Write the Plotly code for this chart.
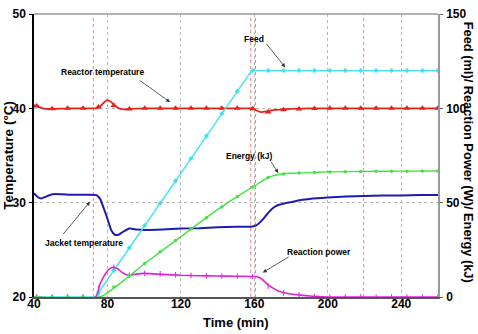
import plotly.graph_objects as go

# ---------------- data ----------------
# Reactor temperature (°C), left axis
reactor_t = [40, 42, 45, 48, 52, 60, 70, 74, 76, 78, 79.5, 81, 83, 85, 87, 89, 92, 100, 120, 140,
             156, 158.5, 161, 163.5, 166, 170, 175, 180, 190, 200, 220, 240, 260]
reactor_v = [40.35, 40.2, 40.0, 39.93, 39.95, 40.0, 40.0, 40.0, 40.2, 40.6, 40.85, 40.8, 40.5, 40.15,
             39.95, 39.9, 39.95, 40.0, 40.0, 40.0, 40.0, 40.0, 39.8, 39.6, 39.65, 39.8, 39.9, 39.95,
             40.0, 40.0, 40.0, 40.0, 40.0]

# Jacket temperature (°C), left axis
jacket_t = [40, 42, 44, 46, 50, 55, 60, 65, 70, 74, 76, 78, 80, 82, 84, 86, 88, 92, 96, 100, 110,
            120, 130, 140, 150, 158, 161, 164, 167, 170, 173, 177, 181, 186, 190, 200, 210, 220,
            230, 240, 250, 260]
jacket_v = [31.0, 30.6, 30.45, 30.6, 30.9, 30.9, 30.85, 30.85, 30.85, 30.8, 30.4, 29.4, 28.3,
            27.1, 26.6, 26.6, 26.85, 27.25, 27.15, 27.1, 27.15, 27.25, 27.3, 27.4, 27.45, 27.45,
            27.6, 28.1, 28.8, 29.4, 29.75, 29.95, 30.1, 30.3, 30.4, 30.55, 30.65, 30.7, 30.75,
            30.75, 30.8, 30.8]

# Feed (ml), right axis
feed_t = [40, 73.5, 158.5, 260]
feed_v = [0, 0, 120, 120]

# Energy (kJ), right axis
energy_t = [40, 76, 100, 120, 138, 156, 160, 165, 170, 175, 180, 190, 200, 220, 240, 260]
energy_v = [0, 0, 17.5, 32, 45, 56.5, 58.8, 62, 64.2, 65.2, 65.6, 65.9, 66.3, 66.6, 66.7, 66.8]

# Reaction power (W), right axis
power_t = [40, 73.5, 76, 79, 81.5, 83.5, 85.5, 88, 91.5, 95, 100, 110, 120, 130, 140, 150, 160,
           162, 164, 166, 168, 170, 173, 176, 180, 185, 190, 195, 200, 220, 260]
power_v = [0, 0, 7, 12.5, 15.2, 15.8, 15.0, 13.0, 11.5, 12.0, 12.5, 12.0, 11.5, 11.3, 11.1, 11.0,
           10.9, 10.6, 9.6, 7.8, 6.2, 4.8, 3.2, 2.3, 1.6, 1.0, 0.5, 0.2, 0, 0, 0]

# sampled marker readings
mark_t = [41.5, 49.9, 58.3, 66.7, 75.1, 83.5, 91.9, 100.3, 108.7, 117.1, 125.5, 133.9, 142.3,
          150.7, 159.1, 167.5, 175.9, 184.3, 192.7, 201.1, 209.5, 217.9, 226.3, 234.7, 243.1,
          251.5, 259.9]
reactor_m = [40.25, 39.95, 40.0, 40.0, 40.15, 40.3, 39.92, 40.0, 40.0, 40.0, 40.0, 40.0, 40.0,
             40.0, 39.95, 39.62, 39.85, 39.92, 39.97, 40.0, 40.0, 40.0, 40.0, 40.0, 40.0, 40.0, 40.0]
feed_m = [0, 0, 0, 0, 2.3, 14.1, 26.0, 37.9, 49.7, 61.6, 73.4, 85.3, 97.2, 109.0, 120, 120, 120,
          120, 120, 120, 120, 120, 120, 120, 120, 120, 120]
energy_m = [0, 0, 0, 0, 0, 5.3, 11.4, 17.7, 24.0, 30.0, 36.0, 42.0, 47.7, 53.2, 58.3, 63.4, 65.2,
            65.7, 66.0, 66.3, 66.4, 66.5, 66.6, 66.7, 66.7, 66.8, 66.8]
power_m = [0, 0, 0, 0, 4.5, 15.8, 11.6, 12.5, 12.3, 11.8, 11.4, 11.3, 11.1, 11.0, 10.8, 5.8, 2.2,
           1.1, 0.3, 0.0, 0.0, 0.0, 0.0, 0.0, 0.0, 0.0, 0.0]

# event lines (min)
event_t = [72.3, 158.0, 160.6, 219.5]

FONT = "Liberation Sans"

fig = go.Figure()

# left-axis series
fig.add_trace(go.Scatter(x=jacket_t, y=jacket_v, mode="lines", line=dict(color="#1c1cb4", width=2, shape="spline", smoothing=0.6),
                         yaxis="y", hoverinfo="skip"))
fig.add_trace(go.Scatter(x=reactor_t, y=reactor_v, mode="lines", line=dict(color="#e4231c", width=1.8, shape="spline", smoothing=0.6),
                         yaxis="y", hoverinfo="skip"))
fig.add_trace(go.Scatter(x=mark_t, y=reactor_m, mode="markers", marker=dict(color="#e4231c", symbol="triangle-up", size=6),
                         yaxis="y", hoverinfo="skip"))

# right-axis series
fig.add_trace(go.Scatter(x=feed_t, y=feed_v, mode="lines", line=dict(color="#3fe2ee", width=1.4),
                         yaxis="y2", hoverinfo="skip"))
fig.add_trace(go.Scatter(x=mark_t, y=feed_m, mode="markers", marker=dict(color="#3fe2ee", symbol="diamond", size=4),
                         yaxis="y2", hoverinfo="skip"))
fig.add_trace(go.Scatter(x=power_t, y=power_v, mode="lines", line=dict(color="#e020d8", width=1.6, shape="spline", smoothing=0.6),
                         yaxis="y2", hoverinfo="skip"))
fig.add_trace(go.Scatter(x=mark_t, y=power_m, mode="markers", marker=dict(color="#e020d8", symbol="line-ns", size=4, line=dict(color="#e020d8", width=1)),
                         yaxis="y2", hoverinfo="skip"))
fig.add_trace(go.Scatter(x=energy_t, y=energy_v, mode="lines", line=dict(color="#46e046", width=1.4, shape="spline", smoothing=0.5),
                         yaxis="y2", hoverinfo="skip"))
fig.add_trace(go.Scatter(x=mark_t, y=energy_m, mode="markers", marker=dict(color="#46e046", symbol="circle", size=3.5),
                         yaxis="y2", hoverinfo="skip"))

for t in event_t:
    fig.add_vline(x=t, line=dict(color="#f08080", width=1, dash="dot"), layer="below")

tickfont = dict(family=FONT, size=12, color="black", weight="bold")
fig.update_layout(
    width=478, height=334,
    margin=dict(l=34, r=40, t=7, b=37),
    paper_bgcolor="white", plot_bgcolor="white",
    showlegend=False,
    xaxis=dict(range=[40, 260], tickvals=[40, 80, 120, 160, 200, 240], showgrid=True,
               gridcolor="#b8b8b8", griddash="dot", gridwidth=1, zeroline=False,
               showline=True, linecolor="#555555", linewidth=1.5, ticks="", tickfont=tickfont,
               ticklabelstandoff=-5),
    yaxis=dict(range=[20, 50], tickvals=[20, 30, 40, 50], showgrid=True, gridcolor="#b8b8b8",
               griddash="dot", gridwidth=1, zeroline=False, showline=True, linecolor="black",
               linewidth=1.5, ticks="outside", ticklen=3, tickcolor="black", tickfont=tickfont,
               ticklabelstandoff=1),
    yaxis2=dict(range=[0, 150], tickvals=[0, 50, 100, 150], overlaying="y", side="right",
                showgrid=False, zeroline=False, showline=True, linecolor="#999999", linewidth=1.5,
                ticks="outside", ticklen=3, tickcolor="#666666", tickfont=tickfont,
                ticklabelstandoff=1),
)

# top frame
fig.add_shape(type="line", xref="paper", yref="paper", x0=0, x1=1, y0=1, y1=1,
              line=dict(color="#999999", width=1.5))

afont = dict(family=FONT, size=8.5, color="black", weight="bold")
labels = [
    ("Reactor temperature", 77.3, 43.9),
    ("Feed", 159.9, 47.3),
    ("Energy (kJ)", 157.2, 35.0),
    ("Jacket temperature", 67.2, 25.7),
    ("Reaction power", 195.3, 24.8),
]
for txt, x, y in labels:
    fig.add_annotation(text=txt, x=x, y=y, xref="x", yref="y", showarrow=False, font=afont)

arrows = [
    (96.8, 43.07, 114.1, 40.66),
    (165.9, 47.0, 176.8, 44.34),
    (168.6, 34.5, 173.0, 33.14),
    (55.3, 26.52, 70.5, 30.1),
    (179.5, 24.34, 164.6, 22.6),
]
for x0, y0, x1, y1 in arrows:
    fig.add_annotation(text="", x=x1, y=y1, xref="x", yref="y", ax=x0, ay=y0, axref="x", ayref="y",
                       showarrow=True, arrowhead=2, arrowsize=1, arrowwidth=0.8, arrowcolor="#333333")

tfont = dict(family=FONT, size=13.5, color="black", weight="bold")
fig.add_annotation(text="Temperature (°C)", xref="paper", yref="paper", x=-0.064, y=0.5,
                   textangle=-90, showarrow=False, font=tfont, xanchor="center", yanchor="middle")
fig.add_annotation(text="Feed (ml)/ Reaction Power (W)/ Energy (kJ)", xref="paper", yref="paper",
                   x=1.074, y=0.51, textangle=90, showarrow=False, font=dict(family=FONT, size=12.8, color="black", weight="bold"),
                   xanchor="center", yanchor="middle")
fig.add_annotation(text="Time (min)", xref="paper", yref="paper", x=(235.5 - 34) / 404, y=-(323 - 297) / 290,
                   showarrow=False, font=dict(family=FONT, size=13, color="black", weight="bold"),
                   xanchor="center", yanchor="middle")

fig.write_html("out.html")
